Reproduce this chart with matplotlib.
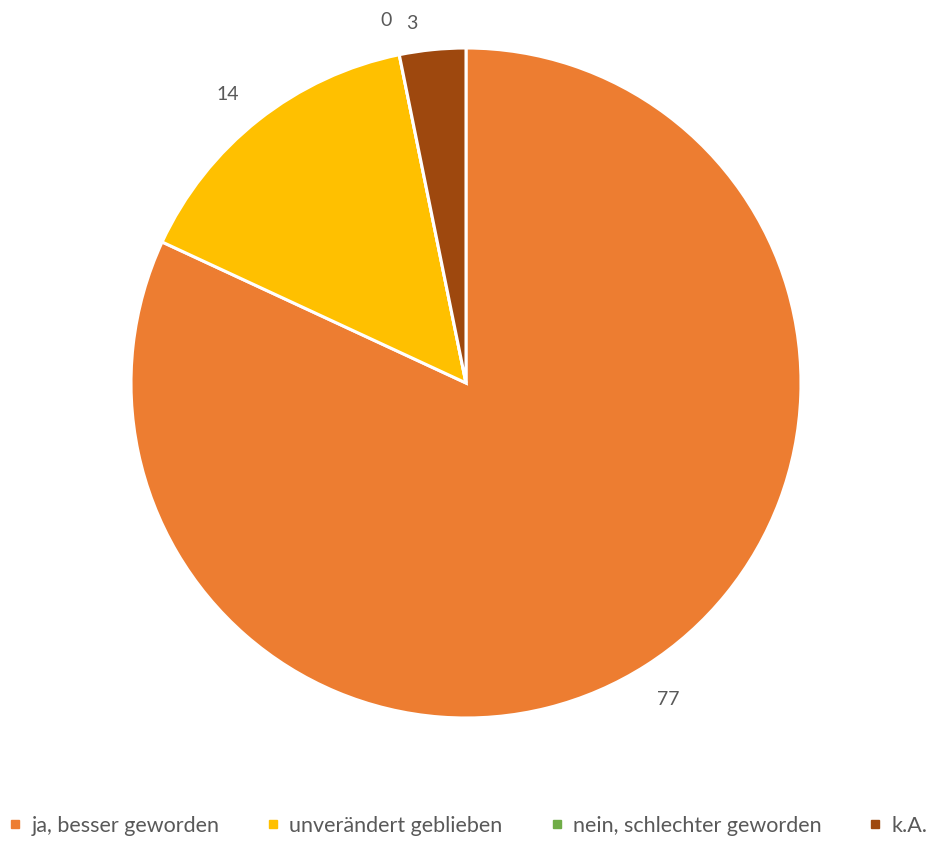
import numpy as np
import matplotlib
matplotlib.use("Agg")
import matplotlib.pyplot as plt
from matplotlib.lines import Line2D

plt.rcParams["font.family"] = ["Lato", "DejaVu Sans"]

# survey answers
CATEGORIES = ["ja, besser geworden", "unverändert geblieben",
              "nein, schlechter geworden", "k.A."]
COUNTS = [77, 14, 0, 3]
COLORS = ["#ED7D31", "#FFC000", "#70AD47", "#9E480E"]
TEXT_C = "#595959"

W, H = 934, 841
fig = plt.figure(figsize=(W / 100, H / 100), dpi=100)

cx, cy, r = 466, 383, 335
ax = fig.add_axes([(cx - r) / W, (H - cy - r) / H, 2 * r / W, 2 * r / H])
wedges, _ = ax.pie(COUNTS, colors=COLORS, startangle=90, counterclock=False,
                   radius=1.0,
                   wedgeprops=dict(edgecolor="white", linewidth=2.2))
ax.set_xlim(-1, 1)
ax.set_ylim(-1, 1)
ax.set_aspect("equal")
ax.axis("off")

# value labels just outside each slice; the two thin slices at the top
# get pulled apart a little so they don't collide
nudge = [(0, 0), (-4, -4), (-4, -4), (-12, -10)]
for w, val, (dx, dy) in zip(wedges, COUNTS, nudge):
    mid = np.deg2rad((w.theta1 + w.theta2) / 2)
    d = 1.12
    ax.annotate(str(val), (d * np.cos(mid), d * np.sin(mid)),
                xytext=(dx, dy), textcoords="offset points",
                ha="center", va="center", fontsize=14, color=TEXT_C,
                annotation_clip=False)

handles = [Line2D([], [], marker="s", linestyle="none", markersize=6,
                  markerfacecolor=c, markeredgecolor=c) for c in COLORS]
fig.legend(handles, CATEGORIES, loc="center", bbox_to_anchor=(0.5, 1 - 826 / H),
           ncol=4, frameon=False, fontsize=15.5, labelcolor=TEXT_C,
           handletextpad=0.35, columnspacing=2.1, handlelength=0.8)

fig.savefig("out.png", dpi=100)
